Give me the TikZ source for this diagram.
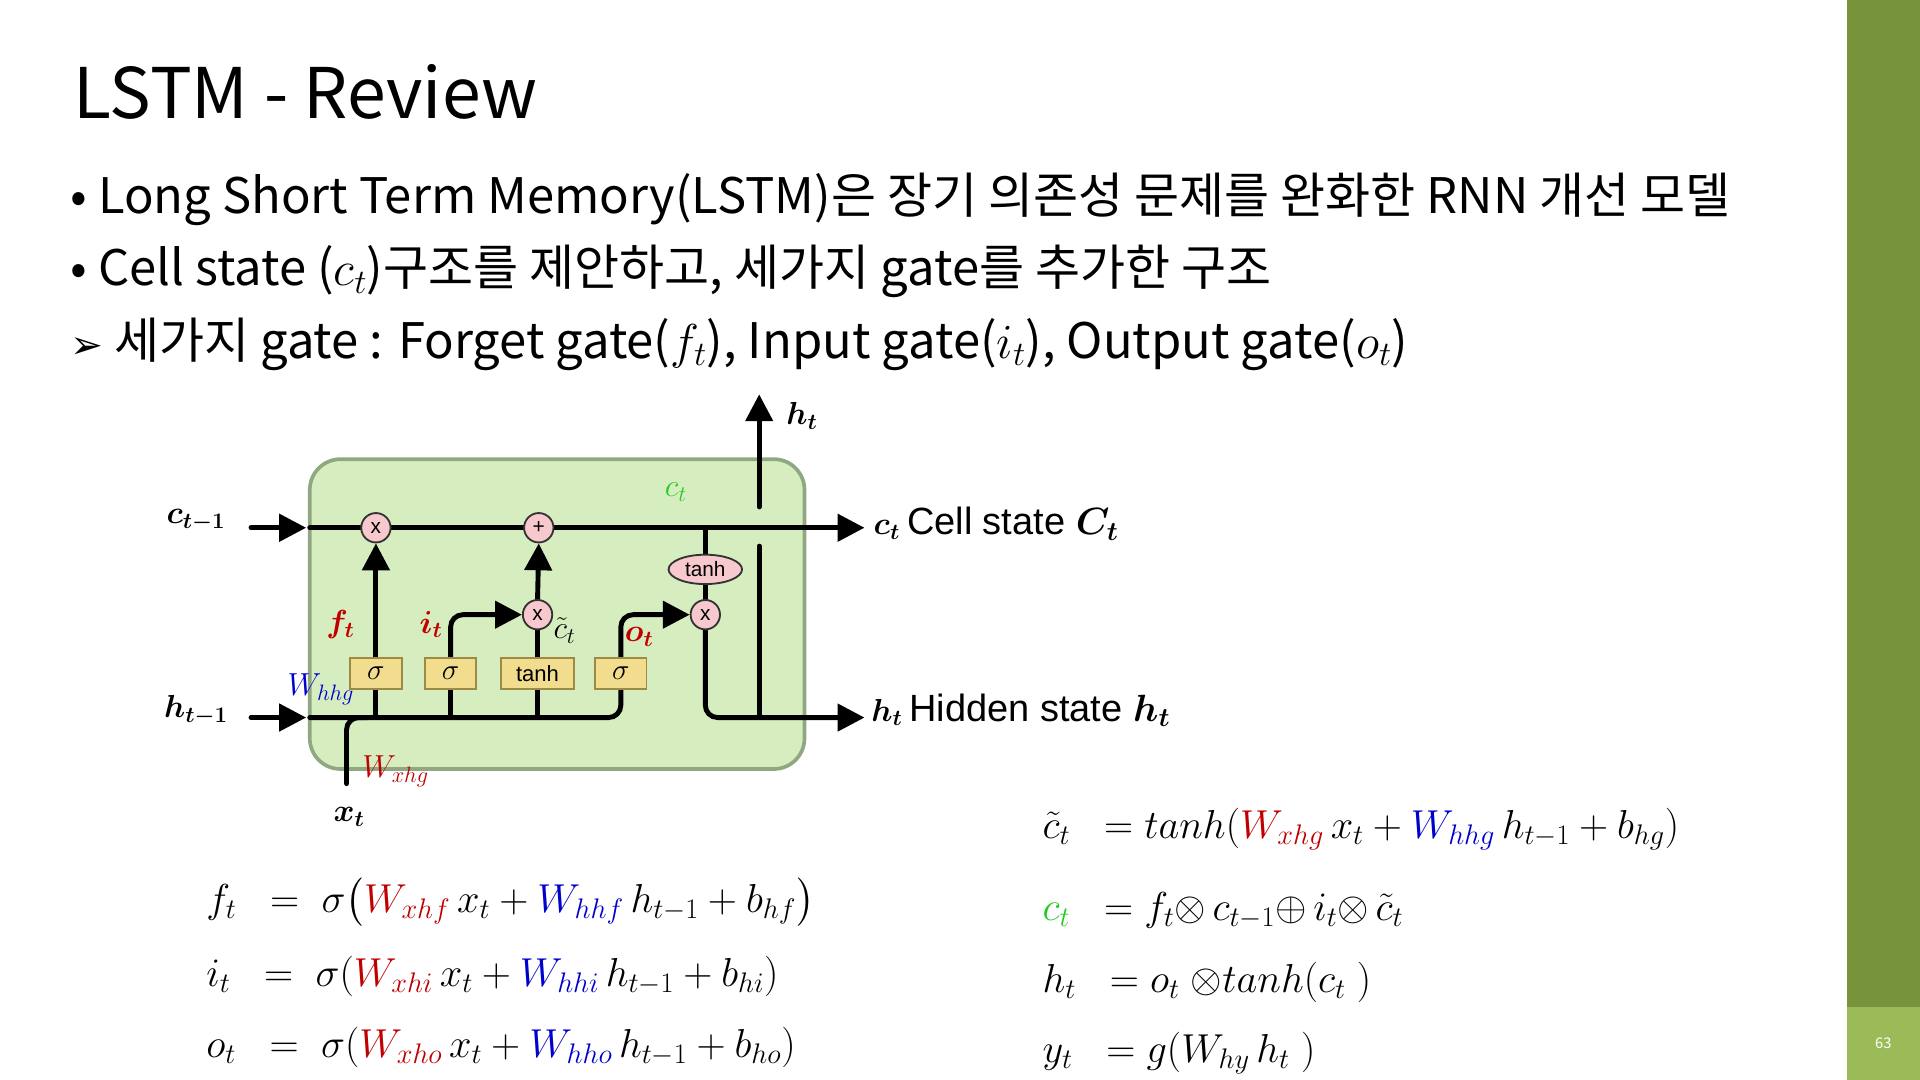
\documentclass[tikz,border=0pt]{standalone}
\usepackage{fix-cm}
\usepackage{amsmath,amssymb,bm}
\usepackage{fontspec}
\setmainfont{Noto Sans CJK KR}
\newfontfamily\djv{DejaVu Sans}
\newfontfamily\lsans{Liberation Sans}
\usetikzlibrary{arrows.meta,shapes.geometric}
\pgfdeclarelayer{bg}\pgfdeclarelayer{cellbg}
\pgfsetlayers{cellbg,bg,main}
\definecolor{barg}{HTML}{77933C}
\definecolor{barl}{HTML}{9BBB59}
\definecolor{boxg}{HTML}{D6EDC0}
\definecolor{boxb}{HTML}{8FA882}
\definecolor{gatey}{HTML}{F2DC8E}
\definecolor{gateb}{HTML}{9C8A45}
\definecolor{opk}{HTML}{F7C8CE}
\definecolor{rd}{HTML}{C00000}
\definecolor{bl}{HTML}{0000CC}
\definecolor{gr}{HTML}{22CC22}
\begin{document}
\begin{tikzpicture}[x=1pt,y=-1pt,
  ln/.style={line width=4pt,line cap=round,rounded corners=10pt},
  ar/.style={ln,-{Triangle[length=22pt,width=22pt]}},
  op/.style={circle,draw=black!80,line width=1.5pt,fill=opk,minimum size=24pt,inner sep=0pt,font=\lsans\fontsize{17}{17}\selectfont},
  gate/.style={draw=gateb,line width=1.5pt,fill=gatey,minimum height=25pt,minimum width=42pt,inner sep=0pt,font=\lsans\fontsize{18}{18}\selectfont},
  dl/.style={font=\fontsize{26}{26}\selectfont},
  eq/.style={anchor=west,font=\fontsize{33}{36}\selectfont},
  bt/.style={anchor=west,font=\fontsize{40}{44}\selectfont}]
\useasboundingbox (0,0) rectangle (1568,882);
\begin{pgfonlayer}{cellbg}
\fill[white] (0,0) rectangle (1568,882);
\end{pgfonlayer}
\fill[barg] (1508,0) rectangle (1568,882);
\fill[barl] (1508,822) rectangle (1568,882);
\node[text=white,font=\fontsize{12}{12}\selectfont] (pg) at (1538,852) {63};
% title and bullets
\node[anchor=base west,inner sep=0pt,font=\fontsize{57}{60}\selectfont] (title) at (60,97) {LSTM - Review};
\node[bt] (b1) at (54,163) {• Long Short Term Memory(LSTM)은 장기 의존성 문제를 완화한 RNN 개선 모델};
\node[bt] (b2) at (54,222) {• Cell state ($c_t$)구조를 제안하고, 세가지 gate를 추가한 구조};
\node[bt] (b3) at (54,281) {{\djv\fontsize{32}{32}\selectfont ➢} 세가지 gate : Forget gate($f_t$), Input gate($i_t$), Output gate($o_t$)};
% cell
\begin{pgfonlayer}{cellbg}
\node[draw=boxb,line width=3pt,fill=boxg,rounded corners=25pt,minimum width=404pt,minimum height=253pt] (cell) at (455,501.5) {};
\end{pgfonlayer}
\coordinate (cin) at (205,431); \coordinate (cinE) at (250,431);
\coordinate (hin) at (205,586); \coordinate (hinE) at (250,586);
\coordinate (cout) at (706,431); \coordinate (hout) at (706,586);
\coordinate (htop) at (620,322);
\coordinate (xb) at (283,640);
\node[op] (fx) at (307,431) {x};
\node[op] (pl) at (440,431) {+};
\node[op] (ix) at (439,502) {x};
\node[op] (ox) at (576,502) {x};
\node[ellipse,draw=black!80,line width=1.5pt,fill=opk,minimum width=60pt,minimum height=24pt,inner sep=0pt,font=\lsans\fontsize{17}{17}\selectfont] (th) at (576,465) {tanh};
\node[gate] (gf) at (307,550) {\fontsize{24}{24}\selectfont$\sigma$};
\node[gate] (gi) at (368,550) {\fontsize{24}{24}\selectfont$\sigma$};
\node[gate,minimum width=60pt] (gc) at (439,550) {tanh};
\node[gate] (go) at (507,550) {\fontsize{24}{24}\selectfont$\sigma$};
% connectors
\begin{pgfonlayer}{bg}
\draw[ar] (cin) -- (cinE);
\draw[ar] (hin) -- (hinE);
\draw[ar] (253,431) -- (cout);
\draw[ln] (253,586) -- (507,586) -- (go.south);
\draw[ln] (xb) -- (283,586) -- (300,586);
\draw[ln] (gf.south) -- (307,586);
\draw[ln] (gi.south) -- (368,586);
\draw[ln] (gc.south) -- (439,586);
\draw[ar] (gf.north) -- (fx.south);
\draw[ar] (gi.north) -- (368,502) -- (ix.west);
\draw[ln] (gc.north) -- (ix.south);
\draw[ar] (ix.north) -- (pl.south);
\draw[ar] (go.north) -- (507,502) -- (ox.west);
\draw[ln] (576,431) -- (th.north);
\draw[ln] (th.south) -- (ox.north);
\draw[ar] (ox.south) -- (576,586) -- (hout);
\draw[ln] (620,586) -- (620,446);
\draw[ar] (620,414) -- (htop);
\end{pgfonlayer}
% labels
\node[dl] (lc1) at (160,425) {$\bm{c_{t-1}}$};
\node[dl] (lh1) at (160,580) {$\bm{h_{t-1}}$};
\node[dl] (lx) at (285,667) {$\bm{x_t}$};
\node[dl] (lht) at (655,340) {$\bm{h_t}$};
\node[dl,text=rd] (lf) at (278,510) {$\bm{f_t}$};
\node[dl,text=rd] (li) at (352,510) {$\bm{i_t}$};
\node[dl,text=rd] (lo) at (522,520) {$\bm{o_t}$};
\node[dl] (lct) at (461,515) {$\tilde c_t$};
\node[dl,text=gr] (lcg) at (552,402) {$c_t$};
\node[dl,text=bl] (lwh) at (262,563) {$W_{hhg}$};
\node[dl,text=rd] (lwx) at (323,630) {$W_{xhg}$};
\node[dl,anchor=west] (cst) at (710,428) {$\bm{c_t}$ \lsans\fontsize{31}{31}\selectfont Cell state $\bm{C_t}$};
\node[dl,anchor=west] (hst) at (708,580) {$\bm{h_t}$ \lsans\fontsize{31}{31}\selectfont Hidden state $\bm{h_t}$};
% equations
\node[eq] (e1) at (165,737) {$f_t\;\;=\;\sigma\big({\color{rd}W_{xhf}}\,x_t+{\color{bl}W_{hhf}}\,h_{t-1}+b_{hf}\big)$};
\node[eq] (e2) at (165,797) {$i_t\;\;=\;\sigma({\color{rd}W_{xhi}}\,x_t+{\color{bl}W_{hhi}}\,h_{t-1}+b_{hi})$};
\node[eq] (e3) at (165,855) {$o_t\;\;=\;\sigma({\color{rd}W_{xho}}\,x_t+{\color{bl}W_{hho}}\,h_{t-1}+b_{ho})$};
\node[eq] (e4) at (848,677) {$\tilde c_t\;\;=tanh({\color{rd}W_{xhg}}\,x_t+{\color{bl}W_{hhg}}\,h_{t-1}+b_{hg})$};
\node[eq] (e5) at (848,744) {${\color{gr}c_t}\;\;=f_t{\otimes}\,c_{t-1}{\oplus}\,i_t{\otimes}\,\tilde c_t$};
\node[eq] (e6) at (848,802) {$h_t\;\;=o_t\;{\otimes} tanh(c_t\;)$};
\node[eq] (e7) at (848,860) {$y_t\;\;=g(W_{hy}\,h_t\;)$};
\end{tikzpicture}
\end{document}
